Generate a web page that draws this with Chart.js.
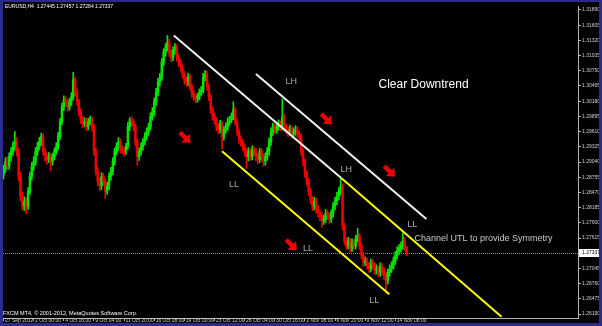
<!DOCTYPE html>
<html>
<head>
<meta charset="utf-8">
<script src="https://cdn.jsdelivr.net/npm/chart.js@4.4.0/dist/chart.umd.min.js"></script>
<style>
  html, body { margin: 0; padding: 0; background: #2b2b8c; }
  body { width: 602px; height: 326px; position: relative; overflow: hidden; }
  #wrap { position: absolute; left: 3px; top: 2px; width: 596px; height: 321px; background: #000; }
</style>
</head>
<body>
<div id="wrap"><canvas id="mt4Chart" width="596" height="321"></canvas></div>
<script>
// EURUSD H4, one value per bar (bar 0 = 27 Sep 2012)
const opens = [
  1.2880,1.2890,1.2905,1.2896,1.2914,1.2924,1.2933,1.2942,1.2924,1.2877,
  1.2840,1.2821,1.2831,1.2821,1.2849,1.2877,1.2896,1.2905,1.2924,1.2933,
  1.2942,1.2952,1.2924,1.2914,1.2909,1.2914,1.2905,1.2914,1.2924,1.2933,
  1.2952,1.2980,1.3007,1.3020,1.3017,1.3007,1.3017,1.3026,1.3058,1.3035,
  1.3017,1.2998,1.2983,1.2976,1.2980,1.2970,1.2980,1.2983,1.2970,1.2924,
  1.2887,1.2868,1.2859,1.2877,1.2868,1.2849,1.2859,1.2877,1.2887,1.2905,
  1.2924,1.2933,1.2942,1.2929,1.2927,1.2924,1.2933,1.2970,1.2983,1.2980,
  1.2970,1.2942,1.2914,1.2924,1.2933,1.2942,1.2952,1.2961,1.2970,1.2989,
  1.2998,1.3017,1.3035,1.3054,1.3063,1.3091,1.3109,1.3119,1.3128,1.3109,
  1.3100,1.3113,1.3119,1.3100,1.3091,1.3082,1.3069,1.3058,1.3054,1.3063,
  1.3045,1.3032,1.3026,1.3022,1.3026,1.3035,1.3039,1.3063,1.3069,1.3045,
  1.3026,1.3002,1.2989,1.2983,1.2970,1.2965,1.2976,1.2952,1.2965,1.2970,
  1.2980,1.2983,1.2989,1.3002,1.2980,1.2961,1.2946,1.2942,1.2933,1.2924,
  1.2914,1.2924,1.2914,1.2927,1.2924,1.2914,1.2909,1.2924,1.2914,1.2905,
  1.2914,1.2924,1.2942,1.2961,1.2970,1.2965,1.2970,1.2976,1.2970,1.2989,
  1.2970,1.2965,1.2961,1.2966,1.2957,1.2961,1.2965,1.2957,1.2952,1.2924,
  1.2905,1.2883,1.2868,1.2849,1.2834,1.2821,1.2831,1.2816,1.2808,1.2803,
  1.2794,1.2797,1.2808,1.2803,1.2797,1.2808,1.2821,1.2831,1.2840,1.2849,
  1.2859,1.2784,1.2756,1.2747,1.2756,1.2742,1.2753,1.2747,1.2760,1.2766,
  1.2747,1.2729,1.2716,1.2719,1.2710,1.2704,1.2716,1.2710,1.2701,1.2704,
  1.2697,1.2708,1.2701,1.2691,1.2682,1.2697,1.2704,1.2710,1.2719,1.2729,
  1.2738,1.2742,1.2747,1.2756,1.27445
];
const highs = [
  1.2898,1.2912,1.2914,1.2921,1.2931,1.2942,1.2961,1.2950,1.2930,1.2885,
  1.2848,1.2839,1.2836,1.2856,1.2884,1.2903,1.2914,1.2931,1.2941,1.2950,
  1.2958,1.2957,1.2930,1.2921,1.2922,1.2919,1.2920,1.2930,1.2940,1.2960,
  1.2986,1.3014,1.3028,1.3026,1.3022,1.3023,1.3034,1.3072,1.3063,1.3041,
  1.3022,1.3004,1.2990,1.2987,1.2986,1.2986,1.2990,1.2988,1.2975,1.2930,
  1.2893,1.2875,1.2884,1.2883,1.2872,1.2866,1.2883,1.2894,1.2912,1.2930,
  1.2940,1.2950,1.2947,1.2935,1.2932,1.2939,1.2978,1.2987,1.2989,1.2984,
  1.2975,1.2947,1.2930,1.2940,1.2948,1.2959,1.2968,1.2977,1.2996,1.3006,
  1.3024,1.3042,1.3061,1.3070,1.3098,1.3116,1.3126,1.3141,1.3134,1.3115,
  1.3120,1.3126,1.3124,1.3106,1.3097,1.3087,1.3074,1.3064,1.3070,1.3068,
  1.3050,1.3038,1.3031,1.3033,1.3041,1.3046,1.3070,1.3076,1.3074,1.3050,
  1.3031,1.3008,1.2995,1.2988,1.2976,1.2982,1.2980,1.2971,1.2977,1.2987,
  1.2990,1.2996,1.3017,1.3007,1.2985,1.2966,1.2952,1.2947,1.2938,1.2929,
  1.2931,1.2929,1.2934,1.2933,1.2929,1.2920,1.2930,1.2929,1.2919,1.2921,
  1.2931,1.2949,1.2968,1.2977,1.2975,1.2977,1.2983,1.2981,1.3022,1.2994,
  1.2975,1.2970,1.2973,1.2971,1.2968,1.2972,1.2970,1.2962,1.2957,1.2929,
  1.2910,1.2888,1.2873,1.2855,1.2840,1.2838,1.2836,1.2822,1.2814,1.2809,
  1.2804,1.2815,1.2813,1.2809,1.2814,1.2828,1.2838,1.2847,1.2856,1.2873,
  1.2863,1.2790,1.2762,1.2763,1.2761,1.2760,1.2758,1.2767,1.2780,1.2770,
  1.2752,1.2735,1.2726,1.2724,1.2715,1.2722,1.2721,1.2715,1.2711,1.2709,
  1.2715,1.2713,1.2706,1.2696,1.2703,1.2711,1.2717,1.2726,1.2736,1.2745,
  1.2749,1.2754,1.2771,1.2762,1.27457
];
const lows = [
  1.2872,1.2884,1.2889,1.2890,1.2906,1.2917,1.2926,1.2915,1.2868,1.2831,
  1.2814,1.2813,1.2807,1.2815,1.2843,1.2870,1.2888,1.2898,1.2916,1.2927,
  1.2935,1.2917,1.2906,1.2900,1.2903,1.2887,1.2898,1.2908,1.2918,1.2927,
  1.2946,1.2974,1.3000,1.3008,1.2999,1.3001,1.3010,1.3020,1.3028,1.3010,
  1.2990,1.2976,1.2968,1.2970,1.2963,1.2964,1.2974,1.2962,1.2917,1.2880,
  1.2860,1.2850,1.2852,1.2860,1.2836,1.2843,1.2852,1.2870,1.2880,1.2898,
  1.2917,1.2926,1.2921,1.2919,1.2915,1.2918,1.2928,1.2963,1.2972,1.2962,
  1.2935,1.2898,1.2907,1.2917,1.2926,1.2936,1.2945,1.2954,1.2964,1.2982,
  1.2991,1.3010,1.3028,1.3046,1.3057,1.3084,1.3102,1.3112,1.3102,1.3092,
  1.3094,1.3106,1.3093,1.3083,1.3074,1.3061,1.3050,1.3046,1.3047,1.3038,
  1.3025,1.3019,1.3015,1.3016,1.3020,1.3029,1.3033,1.3056,1.3038,1.3019,
  1.2995,1.2982,1.2975,1.2962,1.2957,1.2958,1.2929,1.2945,1.2958,1.2963,
  1.2973,1.2977,1.2983,1.2973,1.2954,1.2939,1.2934,1.2925,1.2915,1.2892,
  1.2906,1.2907,1.2908,1.2916,1.2906,1.2900,1.2903,1.2906,1.2896,1.2898,
  1.2907,1.2917,1.2935,1.2954,1.2957,1.2958,1.2963,1.2962,1.2964,1.2962,
  1.2957,1.2952,1.2954,1.2949,1.2950,1.2954,1.2949,1.2944,1.2917,1.2897,
  1.2875,1.2860,1.2841,1.2826,1.2813,1.2814,1.2808,1.2800,1.2794,1.2782,
  1.2787,1.2790,1.2795,1.2789,1.2790,1.2801,1.2814,1.2824,1.2833,1.2842,
  1.2777,1.2749,1.2740,1.2741,1.2735,1.2736,1.2740,1.2741,1.2754,1.2740,
  1.2722,1.2709,1.2710,1.2703,1.2697,1.2698,1.2703,1.2693,1.2694,1.2689,
  1.2690,1.2693,1.2683,1.2658,1.2675,1.2690,1.2697,1.2703,1.2712,1.2722,
  1.2731,1.2735,1.2740,1.2738,1.27284
];
const closes = [
  1.2890,1.2905,1.2896,1.2914,1.2924,1.2933,1.2942,1.2924,1.2877,1.2840,
  1.2821,1.2831,1.2821,1.2849,1.2877,1.2896,1.2905,1.2924,1.2933,1.2942,
  1.2952,1.2924,1.2914,1.2909,1.2914,1.2905,1.2914,1.2924,1.2933,1.2952,
  1.2980,1.3007,1.3020,1.3017,1.3007,1.3017,1.3026,1.3058,1.3035,1.3017,
  1.2998,1.2983,1.2976,1.2980,1.2970,1.2980,1.2983,1.2970,1.2924,1.2887,
  1.2868,1.2859,1.2877,1.2868,1.2849,1.2859,1.2877,1.2887,1.2905,1.2924,
  1.2933,1.2942,1.2929,1.2927,1.2924,1.2933,1.2970,1.2983,1.2980,1.2970,
  1.2942,1.2914,1.2924,1.2933,1.2942,1.2952,1.2961,1.2970,1.2989,1.2998,
  1.3017,1.3035,1.3054,1.3063,1.3091,1.3109,1.3119,1.3128,1.3109,1.3100,
  1.3113,1.3119,1.3100,1.3091,1.3082,1.3069,1.3058,1.3054,1.3063,1.3045,
  1.3032,1.3026,1.3022,1.3026,1.3035,1.3039,1.3063,1.3069,1.3045,1.3026,
  1.3002,1.2989,1.2983,1.2970,1.2965,1.2976,1.2952,1.2965,1.2970,1.2980,
  1.2983,1.2989,1.3002,1.2980,1.2961,1.2946,1.2942,1.2933,1.2924,1.2914,
  1.2924,1.2914,1.2927,1.2924,1.2914,1.2909,1.2924,1.2914,1.2905,1.2914,
  1.2924,1.2942,1.2961,1.2970,1.2965,1.2970,1.2976,1.2970,1.2989,1.2970,
  1.2965,1.2961,1.2966,1.2957,1.2961,1.2965,1.2957,1.2952,1.2924,1.2905,
  1.2883,1.2868,1.2849,1.2834,1.2821,1.2831,1.2816,1.2808,1.2803,1.2794,
  1.2797,1.2808,1.2803,1.2797,1.2808,1.2821,1.2831,1.2840,1.2849,1.2859,
  1.2784,1.2756,1.2747,1.2756,1.2742,1.2753,1.2747,1.2760,1.2766,1.2747,
  1.2729,1.2716,1.2719,1.2710,1.2704,1.2716,1.2710,1.2701,1.2704,1.2697,
  1.2708,1.2701,1.2691,1.2682,1.2697,1.2704,1.2710,1.2719,1.2729,1.2738,
  1.2742,1.2747,1.2756,1.27445,1.27337
];

// time axis labels, one every 16 bars
const xTickBars = [0, 16, 32, 48, 64, 80, 96, 112, 128, 144, 160, 176, 192, 208];
const xTickLabels = ['27 Sep 2012', '2 Oct 00:00', '4 Oct 16:00', '9 Oct 04:00', '11 Oct 20:00',
  '16 Oct 08:00', '19 Oct 00:00', '23 Oct 12:00', '26 Oct 04:00', '30 Oct 16:00',
  '2 Nov 08:00', '6 Nov 20:00', '9 Nov 12:00', '14 Nov 08:00'];

// price axis labels
const yTicks = [1.26190, 1.26475, 1.26760, 1.27045, 1.27330, 1.27615, 1.27900, 1.28185,
  1.28470, 1.28755, 1.29040, 1.29325, 1.29610, 1.29895, 1.30180, 1.30465, 1.30750,
  1.31035, 1.31320, 1.31605, 1.31890];

const lastClose = 1.27337;
const headerText = 'EURUSD,H4  1.27445 1.27457 1.27284 1.27337';
const footerText = 'FXCM MT4, \u00a9 2001-2012, MetaQuotes Software Corp.';

// drawn trend lines: [bar, price] end points
const whiteUpper = [[134.0, 1.3069], [224.5, 1.2797]];
const whiteMiddle = [[90.4, 1.3141], [179.3, 1.2874]];
const yellowUpper = [[179.3, 1.2874], [264.4, 1.2614]];
const yellowLower = [[116.0, 1.2924], [204.8, 1.2656]];

// text objects and arrows: [bar, price]
const noteTexts = ['LH', 'LH', 'LL', 'LL', 'LL', 'LL'];
const notePoints = [[152.7, 1.3054], [181.9, 1.2890], [122.3, 1.2862], [217.0, 1.2786], [161.7, 1.2742], [196.8, 1.2645]];
const arrowPoints = [[96.3, 1.2950], [171.3, 1.2985], [204.8, 1.2887], [152.7, 1.2749]];
const titleText = 'Clear Downtrend';
const titlePoint = [223.0, 1.3048];
const channelText = 'Channel UTL to provide Symmetry';
const channelPoint = [218.2, 1.2760];

const bull = '#00e600';
const bear = '#f00000';
const candleColors = closes.map((c, i) => c >= opens[i] ? bull : bear);
const toLine = pts => pts.map(p => ({x: p[0], y: p[1]}));

const mt4Overlay = {
    id: 'mt4Overlay',
    beforeDatasetsDraw(chart) {
        const {ctx, chartArea: a, scales: {y}} = chart;
        const py = Math.round(y.getPixelForValue(lastClose)) + 0.5;
        ctx.save();
        ctx.strokeStyle = '#909090';
        ctx.lineWidth = 1;
        ctx.setLineDash([1, 1]);
        ctx.beginPath();
        ctx.moveTo(a.left, py);
        ctx.lineTo(a.right, py);
        ctx.stroke();
        ctx.restore();
    },
    afterDraw(chart) {
        const {ctx, chartArea: a, scales: {x, y}} = chart;
        ctx.save();

        // red arrows pointing down-right
        ctx.fillStyle = bear;
        arrowPoints.forEach(p => {
            ctx.save();
            ctx.translate(x.getPixelForValue(p[0]), y.getPixelForValue(p[1]));
            ctx.rotate(Math.PI / 4);
            ctx.beginPath();
            ctx.moveTo(-7, -2.2); ctx.lineTo(1, -2.2); ctx.lineTo(1, -6);
            ctx.lineTo(8, 0); ctx.lineTo(1, 6); ctx.lineTo(1, 2.2); ctx.lineTo(-7, 2.2);
            ctx.closePath();
            ctx.fill();
            ctx.restore();
        });

        // LH / LL marks
        ctx.fillStyle = '#a8a8a8';
        ctx.font = '9px "Liberation Sans", Arial, sans-serif';
        ctx.textAlign = 'center';
        ctx.textBaseline = 'middle';
        noteTexts.forEach((t, i) => {
            ctx.fillText(t, x.getPixelForValue(notePoints[i][0]), y.getPixelForValue(notePoints[i][1]));
        });

        ctx.fillStyle = '#ffffff';
        ctx.font = '12px "Liberation Sans", Arial, sans-serif';
        ctx.fillText(titleText, x.getPixelForValue(titlePoint[0]), y.getPixelForValue(titlePoint[1]));

        ctx.fillStyle = '#c8c8c8';
        ctx.font = '9px "Liberation Sans", Arial, sans-serif';
        ctx.textAlign = 'left';
        ctx.fillText(channelText, x.getPixelForValue(channelPoint[0]), y.getPixelForValue(channelPoint[1]));

        // current price box on the price axis
        const py = Math.round(y.getPixelForValue(lastClose));
        ctx.fillStyle = '#ffffff';
        ctx.fillRect(a.right + 1, py - 4, 20, 8);
        ctx.fillStyle = '#000000';
        ctx.font = '5px "Liberation Sans", Arial, sans-serif';
        ctx.fillText(lastClose.toFixed(5), a.right + 4, py);

        // header and copyright
        ctx.fillStyle = '#ffffff';
        ctx.textBaseline = 'alphabetic';
        ctx.fillText(headerText, 2, 6);
        ctx.font = '5.5px "Liberation Sans", Arial, sans-serif';
        ctx.fillText(footerText, 0, 313);
        ctx.restore();
    }
};

const lineSet = (pts, color) => ({
    type: 'line',
    data: toLine(pts),
    borderColor: color,
    borderWidth: 2,
    pointRadius: 0,
    order: 0
});

const ctx = document.getElementById('mt4Chart').getContext('2d');
new Chart(ctx, {
    type: 'bar',
    data: {
        datasets: [
            lineSet(whiteUpper, '#f2f2f2'),
            lineSet(whiteMiddle, '#f2f2f2'),
            lineSet(yellowUpper, '#ffff00'),
            lineSet(yellowLower, '#ffff00'),
            {
                label: 'body',
                data: opens.map((o, i) => ({x: i, y: [o, closes[i]]})),
                backgroundColor: candleColors,
                barThickness: 1.8,
                minBarLength: 1,
                grouped: false,
                order: 1
            },
            {
                label: 'wick',
                data: lows.map((l, i) => ({x: i, y: [l, highs[i]]})),
                backgroundColor: candleColors,
                barThickness: 1,
                grouped: false,
                order: 2
            }
        ]
    },
    options: {
        responsive: false,
        animation: false,
        events: [],
        layout: { padding: 0 },
        plugins: {
            legend: { display: false },
            tooltip: { enabled: false }
        },
        scales: {
            x: {
                type: 'linear',
                offset: false,
                min: -0.3,
                max: 305,
                afterBuildTicks: s => { s.ticks = xTickBars.map(v => ({value: v})); },
                afterFit: s => { s.height = 5; },
                grid: { offset: false, drawOnChartArea: false, drawTicks: true, tickLength: 3, color: '#b4b4b4' },
                border: { display: true, color: '#b4b4b4', width: 1 },
                ticks: {
                    autoSkip: false,
                    maxRotation: 0,
                    align: 'start',
                    padding: -3,
                    color: '#d0d0d0',
                    font: { size: 5, family: '"Liberation Sans", Arial, sans-serif' },
                    callback: (v, i) => ' ' + xTickLabels[i]
                }
            },
            y: {
                position: 'right',
                min: 1.26116,
                max: 1.31964,
                afterBuildTicks: s => { s.ticks = yTicks.map(v => ({value: v})); },
                afterFit: s => { s.width = 21; },
                grid: { drawOnChartArea: false, drawTicks: true, tickLength: 3, color: '#b4b4b4' },
                border: { display: true, color: '#b4b4b4', width: 1 },
                ticks: {
                    autoSkip: false,
                    padding: 1,
                    color: '#d0d0d0',
                    font: { size: 5, family: '"Liberation Sans", Arial, sans-serif' },
                    callback: v => v.toFixed(5)
                }
            }
        }
    },
    plugins: [mt4Overlay]
});
</script>
</body>
</html>
